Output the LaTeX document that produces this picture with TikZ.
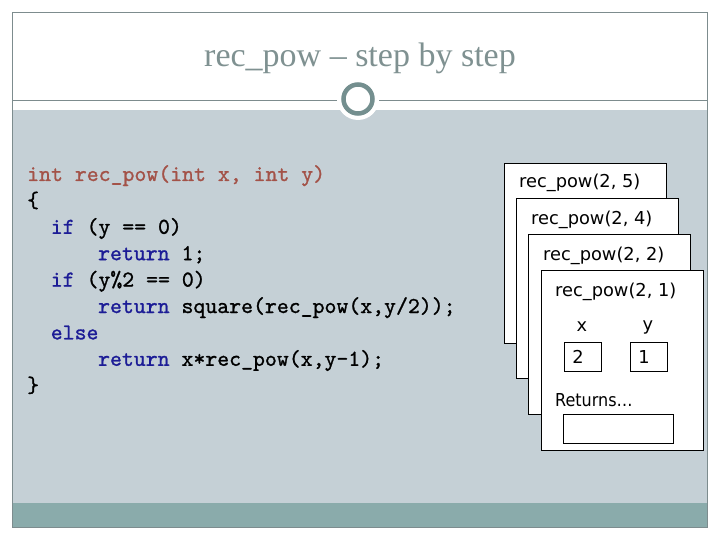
\documentclass[tikz,border=0pt]{standalone}
\usepackage{fontspec}
\setmainfont{Liberation Serif}
\newfontfamily\codefont[Extension=.otf, FakeBold=1.1]{lmmono10-regular}
\newfontfamily\framefont{DejaVu Sans}
\usetikzlibrary{positioning}

\definecolor{titlegray}{RGB}{127,145,145}
\definecolor{edgegray}{RGB}{125,140,142}
\definecolor{bodygray}{RGB}{197,208,214}
\definecolor{barteal}{RGB}{138,171,171}
\definecolor{ringgray}{RGB}{116,143,143}
\definecolor{codered}{RGB}{163,82,72}
\definecolor{codeblue}{RGB}{28,28,150}

\begin{document}
\begin{tikzpicture}[x=1pt, y=-1pt,
	codeline/.style={anchor=base west, inner sep=0pt, font=\codefont\fontsize{22.7}{23}\selectfont},
	frame/.style={draw, fill=white, line width=0.8pt, anchor=north west, inner sep=0pt, minimum width=162pt, minimum height=180pt},
	framelabel/.style={anchor=west, inner sep=0pt, font=\framefont\fontsize{17.8}{18}\selectfont},
	valbox/.style={draw, fill=white, line width=0.8pt, anchor=north west, inner xsep=8pt, inner ysep=0pt, text width=21pt, minimum height=29pt, align=left, font=\framefont\fontsize{17.8}{18}\selectfont},
	varname/.style={inner sep=0pt, font=\framefont\fontsize{17.8}{18}\selectfont}]
	\useasboundingbox (0,0) rectangle (720,540);
	\fill[white] (0,0) rectangle (720,540);

	% --- Folie ---
	\fill[bodygray] (12,110) rectangle (707,503);
	\fill[barteal] (12,503) rectangle (707,527);
	\draw[edgegray, line width=0.8pt] (12,12) rectangle (707,527);
	\draw[edgegray, line width=0.8pt] (12,100) -- (707,100);
	\fill[white] (358,99) circle (21);
	\draw[ringgray, line width=4.5pt, fill=white] (358,99) circle (14.5);
	\node[titlegray, font=\fontsize{34}{36}\selectfont] (title) at (360,58) {rec\_pow -- step by step};

	% --- Code ---
	\node[codeline, codered] (l1) at (27,181) {int rec\_pow(int x, int y)};
	\node[codeline] (l2) at (27,207.4) {\{};
	\node[codeline] (l3) at (50.6,233.8) {\textcolor{codeblue}{if} (y == 0)};
	\node[codeline] (l4) at (97.9,260.2) {\textcolor{codeblue}{return} 1;};
	\node[codeline] (l5) at (50.6,286.6) {\textcolor{codeblue}{if} (y\%2 == 0)};
	\node[codeline] (l6) at (97.9,313) {\textcolor{codeblue}{return} square(rec\_pow(x,y/2));};
	\node[codeline] (l7) at (50.6,339.4) {\textcolor{codeblue}{else}};
	\node[codeline] (l8) at (97.9,365.8) {\textcolor{codeblue}{return} x*rec\_pow(x,y-1);};
	\node[codeline] (l9) at (27,392.2) {\}};

	% --- Aufrufe ---
	\node[frame] (f1) at (504,163) {};
	\node[framelabel] (f1lab) at (f1.north west) [xshift=15pt, yshift=-20pt] {rec\_pow(2, 5)};
	\node[frame] (f2) at (516,198) {};
	\node[framelabel] (f2lab) at (f2.north west) [xshift=15pt, yshift=-22pt] {rec\_pow(2, 4)};
	\node[frame] (f3) at (528,234) {};
	\node[framelabel] (f3lab) at (f3.north west) [xshift=15pt, yshift=-22pt] {rec\_pow(2, 2)};
	\node[frame] (f4) at (541,270) {};
	\node[framelabel] (f4lab) at (f4.north west) [xshift=14pt, yshift=-22pt] {rec\_pow(2, 1)};

	% --- Variablen ---
	\node[valbox] (xval) at (564,342) {2};
	\node[valbox] (yval) at (630,342) {1};
	\node[varname] (xname) at (582,327) {x};
	\node[varname] (yname) at (648,327) {y};
	\node[framelabel, xscale=0.9] (retlab) at (555,400) {Returns\dots};
	\node[draw, fill=white, line width=0.8pt, anchor=north west, minimum width=110pt, minimum height=29pt, inner sep=0pt] (retval) at (563,414) {};
\end{tikzpicture}
\end{document}
